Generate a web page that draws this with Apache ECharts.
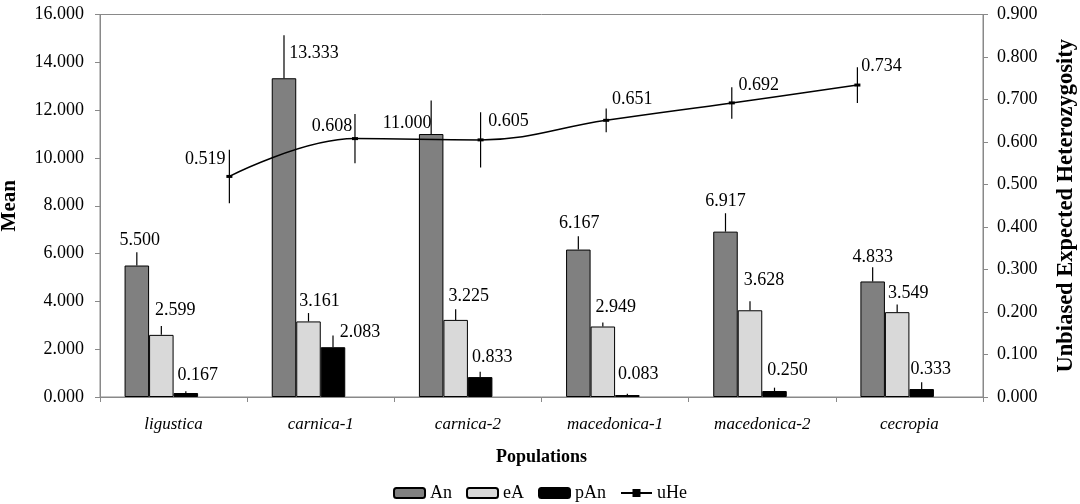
<!DOCTYPE html>
<html>
<head>
<meta charset="utf-8">
<script src="https://cdn.jsdelivr.net/npm/echarts@6/dist/echarts.min.js"></script>
<style>
  html, body { margin: 0; padding: 0; background: #fff; }
  #chart { width: 1080px; height: 504px; }
</style>
</head>
<body>
<div id="chart"></div>
<script>
const categories = ['ligustica', 'carnica-1', 'carnica-2', 'macedonica-1', 'macedonica-2', 'cecropia']
const anValues = [5.500, 13.333, 11.000, 6.167, 6.917, 4.833]
const eAValues = [2.599, 3.161, 3.225, 2.949, 3.628, 3.549]
const pAnValues = [0.167, 2.083, 0.833, 0.083, 0.250, 0.333]
const uHeValues = [0.519, 0.608, 0.605, 0.651, 0.692, 0.734]
const anErr = [0.56, 1.8, 1.4, 0.56, 0.77, 0.59]
const eAErr = [0.37, 0.35, 0.45, 0.17, 0.38, 0.32]
const pAnErr = [0.07, 0.49, 0.22, 0.05, 0.14, 0.28]
const uHeErr = [0.063, 0.058, 0.065, 0.028, 0.037, 0.042]
const leftTicks = { min: 0, max: 16, interval: 2 }
const rightTicks = { min: 0, max: 0.9, interval: 0.1 }

// label placement (px offsets from error-bar top / line point), as in the original
const anLabelShift = [[3, -12], [30, 18], [-24, 23], [1, -13], [0, -12], [0, -10]]
const eALabelShift = [[14, -16], [11, -12], [13, -13], [13, -15], [14, -21], [11, -11]]
const pAnLabelShift = [[12, -16], [27, -3], [12, -15], [11, -20], [13, -17], [9, -13]]
const uHeLabelShift = [[-24, -17], [-23, -12], [28, -19], [26, -21], [27, -18], [24, -19]]

const FONT = '"Liberation Serif", "Times New Roman", serif'
const AXIS_GRAY = '#898989'
const CAT_GAP = 0.334

function barErrors(name, values, errs, slot, shifts) {
  return {
    type: 'custom',
    name: name + '-err',
    xAxisIndex: 0,
    yAxisIndex: 0,
    z: 5,
    silent: true,
    data: values.map((v, i) => [i, v, errs[i]]),
    renderItem(params, api) {
      const i = api.value(0)
      const v = api.value(1)
      const base = api.coord([i, v])
      const top = api.coord([i, v + api.value(2)])
      const barW = api.size([1, 0])[0] * (1 - CAT_GAP) / 4
      const x = base[0] + (slot - 1.5) * barW
      const s = shifts[i]
      return {
        type: 'group',
        children: [
          { type: 'line', shape: { x1: x, y1: base[1], x2: x, y2: top[1] }, style: { stroke: '#000', lineWidth: 1.2 } },
          { type: 'text', x: x + s[0], y: top[1] + s[1], style: { text: v.toFixed(3), fill: '#000', font: '18px ' + FONT, align: 'center', verticalAlign: 'middle' } },
        ],
      }
    },
  }
}

function barSeries(name, values, color) {
  return {
    type: 'bar',
    name,
    xAxisIndex: 0,
    yAxisIndex: 0,
    barGap: 0,
    barCategoryGap: (CAT_GAP * 100) + '%',
    itemStyle: { color, borderColor: '#000', borderWidth: 1 },
    data: values,
  }
}

const chart = echarts.init(document.getElementById('chart'))
chart.setOption({
  animation: false,
  backgroundColor: '#fff',
  textStyle: { fontFamily: FONT, color: '#000' },
  grid: {
    left: 100, right: 97, top: 14.5, bottom: 107,
    containLabel: false, outerBoundsMode: 'none',
    show: true, borderColor: AXIS_GRAY, borderWidth: 1,
  },
  legend: {
    data: ['An', 'eA', 'pAn', 'uHe'],
    left: 'center',
    top: 484,
    itemWidth: 31,
    itemHeight: 10,
    itemGap: 14,
    padding: 0,
    textStyle: { fontFamily: FONT, fontSize: 18, color: '#000' },
  },
  xAxis: [
    {
      type: 'category',
      data: categories,
      name: 'Populations',
      nameLocation: 'middle',
      nameGap: 51,
      nameTextStyle: { fontFamily: FONT, fontSize: 18, fontWeight: 'bold', color: '#000' },
      axisLine: { lineStyle: { color: AXIS_GRAY } },
      axisTick: { show: true, length: 5, lineStyle: { color: AXIS_GRAY } },
      axisLabel: { fontFamily: FONT, fontSize: 17, fontStyle: 'italic', color: '#000', margin: 19 },
    },
    { type: 'value', min: -1.03, max: 6, show: false },
  ],
  yAxis: [
    {
      type: 'value',
      ...leftTicks,
      name: 'Mean',
      nameLocation: 'middle',
      nameGap: 80,
      nameRotate: 90,
      nameTextStyle: { fontFamily: FONT, fontSize: 21, fontWeight: 'bold', color: '#000' },
      axisLine: { show: true, onZero: false, lineStyle: { color: AXIS_GRAY } },
      axisTick: { show: true, length: 5, lineStyle: { color: AXIS_GRAY } },
      axisLabel: { fontFamily: FONT, fontSize: 18, color: '#000', margin: 16, formatter: (v) => v.toFixed(3) },
      splitLine: { show: false },
    },
    {
      type: 'value',
      ...rightTicks,
      position: 'right',
      name: 'Unbiased Expected Heterozygosity',
      nameLocation: 'middle',
      nameGap: 72,
      nameRotate: 90,
      nameTextStyle: { fontFamily: FONT, fontSize: 22.5, fontWeight: 'bold', color: '#000' },
      axisLine: { show: true, onZero: false, lineStyle: { color: AXIS_GRAY } },
      axisTick: { show: true, length: 5, lineStyle: { color: AXIS_GRAY } },
      axisLabel: { fontFamily: FONT, fontSize: 18, color: '#000', margin: 14, formatter: (v) => v.toFixed(3) },
      splitLine: { show: false },
    },
  ],
  series: [
    barSeries('An', anValues, '#808080'),
    barSeries('eA', eAValues, '#d9d9d9'),
    barSeries('pAn', pAnValues, '#000000'),
    // empty fourth slot, the original leaves room for it in each group
    barSeries('', categories.map(() => null), 'transparent'),
    barErrors('An', anValues, anErr, 0, anLabelShift),
    barErrors('eA', eAValues, eAErr, 1, eALabelShift),
    barErrors('pAn', pAnValues, pAnErr, 2, pAnLabelShift),
    {
      type: 'line',
      name: 'uHe',
      xAxisIndex: 1,
      yAxisIndex: 1,
      z: 6,
      smooth: 0.4,
      symbol: 'rect',
      symbolSize: [6, 3],
      lineStyle: { color: '#000', width: 1.5 },
      itemStyle: { color: '#000' },
      data: uHeValues.map((v, i) => [i, v]),
    },
    {
      type: 'custom',
      name: 'uHe-err',
      xAxisIndex: 1,
      yAxisIndex: 1,
      z: 6,
      silent: true,
      data: uHeValues.map((v, i) => [i, v, uHeErr[i]]),
      renderItem(params, api) {
        const i = api.value(0)
        const v = api.value(1)
        const e = api.value(2)
        const p = api.coord([i, v])
        const hi = api.coord([i, v + e])
        const lo = api.coord([i, v - e])
        const s = uHeLabelShift[i]
        return {
          type: 'group',
          children: [
            { type: 'line', shape: { x1: p[0], y1: hi[1], x2: p[0], y2: lo[1] }, style: { stroke: '#000', lineWidth: 1.2 } },
            { type: 'text', x: p[0] + s[0], y: p[1] + s[1], style: { text: v.toFixed(3), fill: '#000', font: '18px ' + FONT, align: 'center', verticalAlign: 'middle' } },
          ],
        }
      },
    },
  ],
})
</script>
</body>
</html>
